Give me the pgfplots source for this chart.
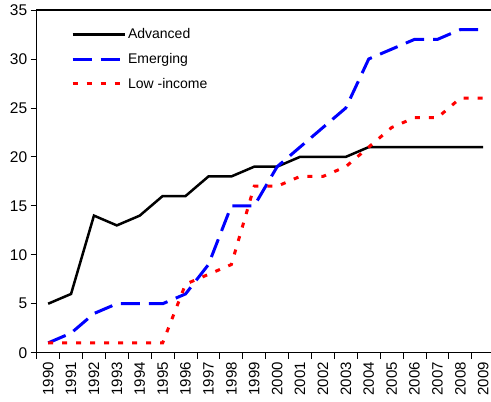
\documentclass[border=0pt]{standalone}
\usepackage{pgfplots}
\pgfplotsset{compat=1.18}
\usepackage{fontspec}
\setmainfont{Liberation Sans}
\begin{document}
\begin{tikzpicture}
\begin{axis}[
  name=ax,
  scale only axis,
  width=458pt, height=342.7pt,
  xmin=-0.5, xmax=19.5, ymin=0, ymax=35,
  axis lines=box,
  axis line style={line width=1.3pt, black},
  xtick={0,...,19},
  xticklabels={1990,1991,1992,1993,1994,1995,1996,1997,1998,1999,2000,2001,2002,2003,2004,2005,2006,2007,2008,2009},
  x tick label style={rotate=90, anchor=east, font=\fontsize{15}{15}\selectfont},
  minor xtick={-0.5,0.5,...,19.5},
  major x tick style={draw=none},
  minor x tick style={black, line width=0.8pt},
  minor tick length=6pt,
  ytick={0,5,...,35},
  y tick label style={font=\fontsize{15.5}{15}\selectfont},
  major tick length=6pt,
  y tick style={black, line width=0.8pt},
  tick pos=bottom,
  ytick pos=left,
  tick align=outside,
  /pgf/number format/assume math mode=true,
  legend style={draw=none, fill=none, at={(rel axis cs:0.068,0.958)}, anchor=north west,
    font=\fontsize{14}{14}\selectfont, row sep=9pt, legend cell align=left},
  legend image code/.code={\draw[#1] (0pt,0pt) -- (52pt,0pt);},
]
\addplot[black, line width=2.5pt] coordinates {
(0,5)(1,6)(2,14)(3,13)(4,14)(5,16)(6,16)(7,18)(8,18)(9,19)(10,19)(11,20)(12,20)(13,20)(14,21)(15,21)(16,21)(17,21)(18,21)(19,21)};
\addlegendentry{Advanced}
\addplot[blue, line width=3pt, dash pattern=on 19pt off 9pt] coordinates {
(0,1)(1,2)(2,4)(3,5)(4,5)(5,5)(6,6)(7,9)(8,15)(9,15)(10,19)(11,21)(12,23)(13,25)(14,30)(15,31)(16,32)(17,32)(18,33)(19,33)};
\addlegendentry{Emerging}
\addplot[red, line width=3pt, dash pattern=on 5pt off 9pt] coordinates {
(0,1)(1,1)(2,1)(3,1)(4,1)(5,1)(6,7)(7,8)(8,9)(9,17)(10,17)(11,18)(12,18)(13,19)(14,21)(15,23)(16,24)(17,24)(18,26)(19,26)};
\addlegendentry{Low -income}
\end{axis}
\pgfresetboundingbox
\path ([xshift=-36.7pt,yshift=10pt]ax.north west) rectangle ([xshift=454.3pt,yshift=-392pt]ax.north west);
\end{tikzpicture}
\end{document}
